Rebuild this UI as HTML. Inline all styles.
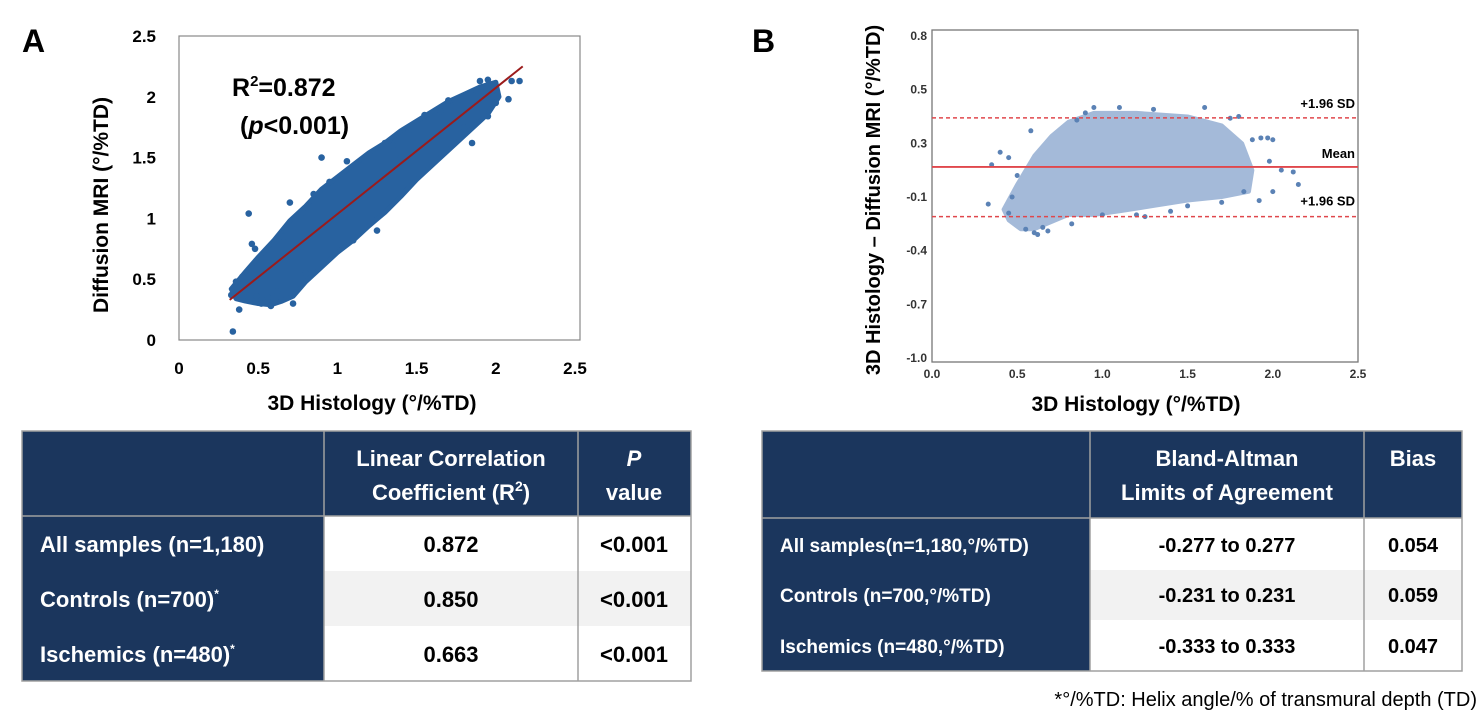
<!DOCTYPE html>
<html><head><meta charset="utf-8">
<style>
html,body{margin:0;padding:0;background:#fff;}
svg{display:block;font-family:"Liberation Sans",Arial,sans-serif;}
</style></head>
<body>
<svg id="fig" width="1480" height="718" viewBox="0 0 1480 718" xmlns="http://www.w3.org/2000/svg">
  <text x="22" y="52" font-size="32" font-weight="bold">A</text>
  <text x="752" y="52" font-size="32" font-weight="bold">B</text>
  <g id="chartA"></g>
  <g id="chartB"></g>

  <g font-weight="bold" font-size="22">
    <rect x="22" y="431" width="669" height="85" fill="#1b365d"/>
    <rect x="22" y="516" width="302" height="165" fill="#1b365d"/>
    <rect x="324" y="516" width="367" height="55" fill="#fff"/>
    <rect x="324" y="571" width="367" height="55" fill="#f2f2f2"/>
    <rect x="324" y="626" width="367" height="55" fill="#fff"/>
    <g stroke="#a0a0a0" stroke-width="1.5" fill="none">
      <rect x="22" y="431" width="669" height="250"/>
      <line x1="324" y1="431" x2="324" y2="681"/>
      <line x1="578" y1="431" x2="578" y2="681"/>
      <line x1="22" y1="516" x2="691" y2="516"/>
    </g>
    <g fill="#fff">
      <text x="451" y="466" text-anchor="middle">Linear Correlation</text>
      <text x="451" y="500" text-anchor="middle">Coefficient (R<tspan font-size="14" dy="-9">2</tspan><tspan dy="9">)</tspan></text>
      <text x="634" y="466" text-anchor="middle" font-style="italic">P</text>
      <text x="634" y="500" text-anchor="middle">value</text>
      <text x="40" y="552">All samples (n=1,180)</text>
      <text x="40" y="607">Controls (n=700)<tspan font-size="12" dy="-9">*</tspan></text>
      <text x="40" y="662">Ischemics (n=480)<tspan font-size="12" dy="-9">*</tspan></text>
    </g>
    <g fill="#000" text-anchor="middle">
      <text x="451" y="552">0.872</text>
      <text x="451" y="607">0.850</text>
      <text x="451" y="662">0.663</text>
      <text x="634" y="552">&lt;0.001</text>
      <text x="634" y="607">&lt;0.001</text>
      <text x="634" y="662">&lt;0.001</text>
    </g>
  </g>

  <g font-weight="bold">
    <rect x="762" y="431" width="700" height="87" fill="#1b365d"/>
    <rect x="762" y="518" width="328" height="153" fill="#1b365d"/>
    <rect x="1090" y="518" width="372" height="52" fill="#fff"/>
    <rect x="1090" y="570" width="372" height="50" fill="#f2f2f2"/>
    <rect x="1090" y="620" width="372" height="51" fill="#fff"/>
    <g stroke="#a0a0a0" stroke-width="1.5" fill="none">
      <rect x="762" y="431" width="700" height="240"/>
      <line x1="1090" y1="431" x2="1090" y2="671"/>
      <line x1="1364" y1="431" x2="1364" y2="671"/>
      <line x1="762" y1="518" x2="1462" y2="518"/>
    </g>
    <g fill="#fff">
      <text x="1227" y="466" font-size="22" text-anchor="middle">Bland-Altman</text>
      <text x="1227" y="500" font-size="22" text-anchor="middle">Limits of Agreement</text>
      <text x="1413" y="466" font-size="22" text-anchor="middle">Bias</text>
      <text x="780" y="552" font-size="19">All samples(n=1,180,°/%TD)</text>
      <text x="780" y="602" font-size="19">Controls (n=700,°/%TD)</text>
      <text x="780" y="653" font-size="19">Ischemics (n=480,°/%TD)</text>
    </g>
    <g fill="#000" text-anchor="middle" font-size="20">
      <text x="1227" y="552">-0.277 to 0.277</text>
      <text x="1227" y="602">-0.231 to 0.231</text>
      <text x="1227" y="653">-0.333 to 0.333</text>
      <text x="1413" y="552">0.054</text>
      <text x="1413" y="602">0.059</text>
      <text x="1413" y="653">0.047</text>
    </g>
  </g>
  <text x="1477" y="706" font-size="20" text-anchor="end" fill="#000">*°/%TD: Helix angle/% of transmural depth (TD)</text>
</svg>
<script>
// ---------- Panel A data ----------
const aTicks = [0, 0.5, 1, 1.5, 2, 2.5];
const aTickLabels = ["0", "0.5", "1", "1.5", "2", "2.5"];
const aCloudX = [0.33,0.42,0.5,0.6,0.7,0.8,0.9,1.0,1.1,1.2,1.3,1.4,1.5,1.6,1.7,1.8,1.9,2.0,2.02,1.95,1.85,1.75,1.6,1.5,1.4,1.3,1.2,1.1,1.0,0.9,0.8,0.72,0.65,0.58,0.5,0.42,0.36];
const aCloudY = [0.42,0.56,0.68,0.82,0.98,1.10,1.24,1.34,1.44,1.54,1.62,1.72,1.80,1.88,1.96,2.02,2.08,2.12,2.0,1.86,1.74,1.62,1.44,1.32,1.18,1.05,0.94,0.82,0.72,0.60,0.48,0.36,0.32,0.29,0.30,0.32,0.34];
const aPtsX = [0.34,0.44,0.46,0.38,0.33,0.36,0.40,0.48,0.52,0.58,0.70,0.90,1.06,1.10,1.85,1.90,1.95,2.10,2.15,2.00,2.08,1.95,1.80,1.75,1.55,1.40,0.72,0.60,0.52,0.80,1.25,1.30,1.65,0.45,0.56,0.62,0.66,0.78,0.85,0.95,1.15,1.35,1.45,1.70,1.88,1.98,0.42,0.49];
const aPtsY = [0.07,1.04,0.79,0.25,0.37,0.48,0.52,0.75,0.30,0.28,1.13,1.50,1.47,0.82,1.62,2.13,2.14,2.13,2.13,1.95,1.98,1.84,1.75,1.95,1.85,1.50,0.30,0.62,0.50,0.55,0.90,1.62,1.88,0.45,0.35,0.40,0.85,1.05,1.20,1.30,1.43,1.60,1.72,1.97,2.05,2.05,0.40,0.36];
const aLineX = [0.32, 2.17];
const aLineY = [0.33, 2.25];

// ---------- Panel B data ----------
const bXTicks = [0, 0.5, 1.0, 1.5, 2.0, 2.5];
const bXTickLabels = ["0.0", "0.5", "1.0", "1.5", "2.0", "2.5"];
const bYTicks = [0.8, 0.5, 0.2, -0.1, -0.4, -0.7, -1.0];
const bYTickLabels = ["0.8", "0.5", "0.3", "-0.1", "-0.4", "-0.7", "-1.0"];
const bMean = 0.068;
const bUpper = 0.342;
const bLower = -0.21;
const bCloudX = [0.42,0.5,0.6,0.7,0.8,0.95,1.2,1.5,1.7,1.82,1.88,1.86,1.7,1.5,1.3,1.1,0.95,0.8,0.7,0.6,0.52,0.45];
const bCloudY = [-0.17,-0.03,0.13,0.24,0.32,0.37,0.37,0.35,0.3,0.2,0.05,-0.07,-0.1,-0.12,-0.15,-0.18,-0.2,-0.2,-0.24,-0.28,-0.28,-0.23];
const bPtsX = [0.33,0.35,0.40,0.45,0.58,0.45,0.55,0.60,0.65,0.82,1.00,1.20,1.40,1.88,1.93,1.97,2.00,2.05,2.12,2.15,1.92,2.00,1.98,1.80,1.75,0.95,1.30,1.60,1.10,1.83,1.70,0.47,0.50,0.90,0.62,0.68,1.50,1.25,0.85];
const bPtsY = [-0.14,0.08,0.15,0.12,0.27,-0.19,-0.28,-0.30,-0.27,-0.25,-0.20,-0.20,-0.18,0.22,0.23,0.23,0.22,0.05,0.04,-0.03,-0.12,-0.07,0.10,0.35,0.34,0.40,0.39,0.40,0.40,-0.07,-0.13,-0.10,0.02,0.37,-0.31,-0.29,-0.15,-0.21,0.33];

const NS = "http://www.w3.org/2000/svg";
function mk(parent, tag, attrs, text) {
  const el = document.createElementNS(NS, tag);
  for (const k in attrs) el.setAttribute(k, attrs[k]);
  if (text !== undefined) el.textContent = text;
  parent.appendChild(el);
  return el;
}

// ----- Chart A -----
const A = document.getElementById("chartA");
const xA = v => 179 + v * 158.4;
const yA = v => 340 - v * 121.6;
let fr = mk(A, "rect", {x: 179, y: 36, width: 401, height: 304, fill: "none", stroke: "#888", "stroke-width": 1.2});


aTicks.forEach((t, i) => {
  let tx = mk(A, "text", {x: xA(t), y: 374, "font-size": 17, "font-weight": "bold", "text-anchor": "middle"}, aTickLabels[i]);
  
  
  let ty = mk(A, "text", {x: 156, y: yA(t) + 6, "font-size": 17, "font-weight": "bold", "text-anchor": "end"}, aTickLabels[i]);
  
  
});
let poly = mk(A, "polygon", {points: aCloudX.map((x, i) => xA(x) + "," + yA(aCloudY[i])).join(" "), fill: "#2862a0", stroke: "#2862a0", "stroke-width": 5, "stroke-linejoin": "round"});


aPtsX.forEach((x, i) => {
  let c = mk(A, "circle", {cx: xA(x), cy: yA(aPtsY[i]), r: 3.3, fill: "#2862a0"});
  
  
});
let rl = mk(A, "line", {x1: xA(aLineX[0]), y1: yA(aLineY[0]), x2: xA(aLineX[1]), y2: yA(aLineY[1]), stroke: "#9b1b1b", "stroke-width": 2});


let r2 = mk(A, "text", {x: 232, y: 96, "font-size": 25, "font-weight": "bold"});


r2.innerHTML = 'R<tspan font-size="15" dy="-10">2</tspan><tspan dy="10">=0.872</tspan>';
let pv = mk(A, "text", {x: 240, y: 134, "font-size": 25, "font-weight": "bold"});


pv.innerHTML = '(<tspan font-style="italic">p</tspan>&lt;0.001)';
let xla = mk(A, "text", {x: 372, y: 410, "font-size": 21, "font-weight": "bold", "text-anchor": "middle"}, "3D Histology (°/%TD)");


let yla = mk(A, "text", {x: 0, y: 0, "font-size": 21, "font-weight": "bold", "text-anchor": "middle", transform: "translate(108,205) rotate(-90)"}, "Diffusion MRI (°/%TD)");



// ----- Chart B -----
const B = document.getElementById("chartB");
const xB = v => 932 + v * 170.4;
const yB = v => 358 - (v + 1) * 178.9;
let frb = mk(B, "rect", {x: 932, y: 30, width: 426, height: 332, fill: "none", stroke: "#777", "stroke-width": 1.3});


bXTicks.forEach((t, i) => {
  let tx = mk(B, "text", {x: xB(t), y: 378, "font-size": 12, "font-weight": "bold", "text-anchor": "middle", fill: "#333"}, bXTickLabels[i]);
  
  
});
bYTicks.forEach((t, i) => {
  let ty = mk(B, "text", {x: 927, y: yB(t) + 4, "font-size": 12, "font-weight": "bold", "text-anchor": "end", fill: "#333"}, bYTickLabels[i]);
  
  
});
let pb = mk(B, "polygon", {points: bCloudX.map((x, i) => xB(x) + "," + yB(bCloudY[i])).join(" "), fill: "#8eaad0", stroke: "#8eaad0", "stroke-width": 4, "stroke-linejoin": "round", opacity: 0.8});


bPtsX.forEach((x, i) => {
  let c = mk(B, "circle", {cx: xB(x), cy: yB(bPtsY[i]), r: 2.5, fill: "#5b82b5"});
  
  
});
let ml = mk(B, "line", {x1: 932, y1: yB(bMean), x2: 1358, y2: yB(bMean), stroke: "#e0474c", "stroke-width": 1.8});


let ul = mk(B, "line", {x1: 932, y1: yB(bUpper), x2: 1358, y2: yB(bUpper), stroke: "#e0474c", "stroke-width": 1.5, "stroke-dasharray": "4,3"});


let ll = mk(B, "line", {x1: 932, y1: yB(bLower), x2: 1358, y2: yB(bLower), stroke: "#e0474c", "stroke-width": 1.5, "stroke-dasharray": "4,3"});


let a1 = mk(B, "text", {x: 1355, y: yB(bUpper) - 10, "font-size": 13, "font-weight": "bold", "text-anchor": "end"}, "+1.96 SD");


let a2 = mk(B, "text", {x: 1355, y: yB(bMean) - 9, "font-size": 13, "font-weight": "bold", "text-anchor": "end"}, "Mean");


let a3 = mk(B, "text", {x: 1355, y: yB(bLower) - 11, "font-size": 13, "font-weight": "bold", "text-anchor": "end"}, "+1.96 SD");


let xlb = mk(B, "text", {x: 1136, y: 411, "font-size": 21, "font-weight": "bold", "text-anchor": "middle"}, "3D Histology (°/%TD)");


let ylb = mk(B, "text", {x: 0, y: 0, "font-size": 20, "font-weight": "bold", "text-anchor": "middle", transform: "translate(880,200) rotate(-90)"}, "3D Histology – Diffusion MRI (°/%TD)");


</script>
</body></html>
